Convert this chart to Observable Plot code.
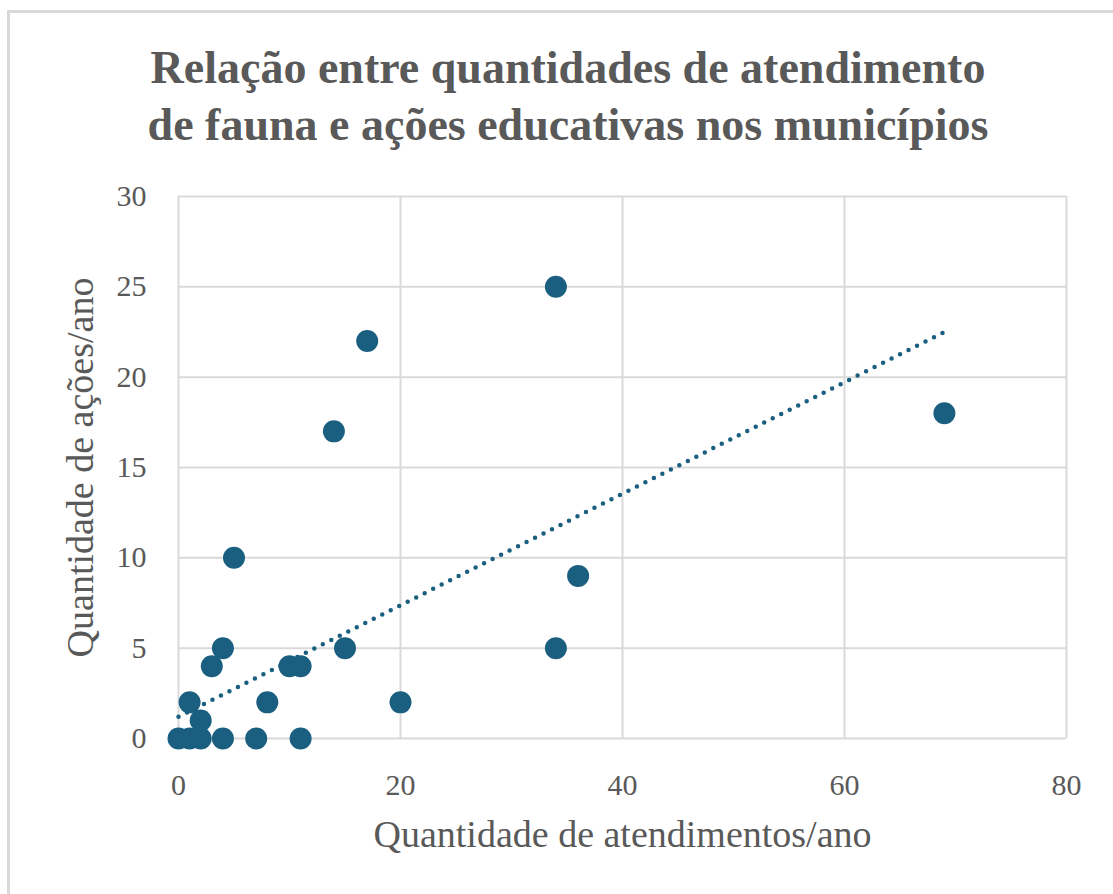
<!DOCTYPE html>
<html>
<head>
<meta charset="utf-8">
<script src="https://cdn.jsdelivr.net/npm/d3@7"></script>
<script src="https://cdn.jsdelivr.net/npm/@observablehq/plot@0.6"></script>
<style>
  html, body { margin: 0; padding: 0; background: #fff; overflow: hidden; }
  #page { position: relative; width: 1113px; height: 894px; overflow: hidden; }
  #frame { position: absolute; left: 7px; top: 10px; width: 1200px; height: 1000px; border: 3px solid #d9d9d9; box-sizing: border-box; }
  #title { position: absolute; left: 0; top: 39px; width: 1136px; text-align: center;
           font-family: "Liberation Serif", "Times New Roman", serif; font-weight: bold;
           font-size: 46px; line-height: 57px; color: #595959; }
  #chart { position: absolute; left: 0; top: 160px; }
</style>
</head>
<body>
<div id="page">
  <div id="frame"></div>
  <div id="title">Relação entre quantidades de atendimento<br>de fauna e ações educativas nos municípios</div>
  <div id="chart"></div>
</div>
<script>
const atendimentos = [0, 1, 2, 1, 2, 3, 4, 4, 5, 7, 8, 10, 11, 11, 14, 15, 17, 20, 34, 34, 36, 69];
const acoes        = [0, 0, 0, 2, 1, 4, 5, 0, 10, 0, 2, 4, 4, 0, 17, 5, 22, 2, 25, 5, 9, 18];
const trendX = [0, 69];
const trendY = [1.2, 22.5];
const xTicks = [0, 20, 40, 60, 80];
const yTicks = [0, 5, 10, 15, 20, 25, 30];
const xLabel = "Quantidade de atendimentos/ano";
const yLabel = "Quantidade de ações/ano";

const points = atendimentos.map((x, i) => ({x, y: acoes[i]}));
const trend = trendX.map((x, i) => ({x, y: trendY[i]}));

const grid = "#d9d9d9";
const ink = "#595959";
const dotColor = "#1a5e80";

const plot = Plot.plot({
  width: 1113,
  height: 734,
  marginLeft: 178,
  marginRight: 47,
  marginTop: 36,
  marginBottom: 156,
  style: { fontFamily: "'Liberation Serif', 'Times New Roman', serif", fontSize: "30px", color: ink, background: "transparent", overflow: "visible" },
  x: { domain: [0, 80] },
  y: { domain: [0, 30] },
  marks: [
    Plot.gridX(xTicks, { stroke: grid, strokeOpacity: 1, strokeWidth: 2 }),
    Plot.gridY(yTicks, { stroke: grid, strokeOpacity: 1, strokeWidth: 2 }),
    Plot.axisX(xTicks, { tickSize: 0, tickPadding: 35, label: null, fill: ink, fontSize: 30 }),
    Plot.axisY(yTicks, { tickSize: 0, tickPadding: 32, label: null, fill: ink, fontSize: 30 }),
    Plot.line(trend, { x: "x", y: "y", stroke: dotColor, strokeWidth: 4.5, strokeDasharray: "0 9.5", strokeLinecap: "round" }),
    Plot.dot(points, { x: "x", y: "y", r: 11, fill: dotColor, stroke: "none" }),
    Plot.text([xLabel], { frameAnchor: "bottom", dy: 96, text: d => d, fill: ink, fontSize: 38, lineAnchor: "middle", textAnchor: "middle" }),
    Plot.text([yLabel], { frameAnchor: "left", dx: -98, rotate: -90, text: d => d, fill: ink, fontSize: 38, lineAnchor: "middle", textAnchor: "middle" })
  ]
});
document.getElementById("chart").appendChild(plot);
</script>
</body>
</html>
